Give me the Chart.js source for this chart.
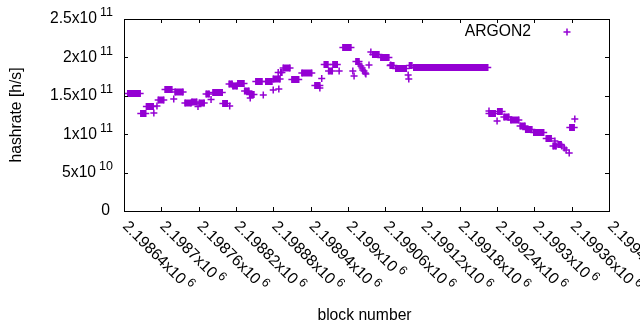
<!DOCTYPE html>
<html lang="en">
<head>
<meta charset="UTF-8">
<title>ARGON2 hashrate</title>
<script src="https://cdn.jsdelivr.net/npm/chart.js@4/dist/chart.umd.min.js"></script>
<style>
    body { margin: 0; background: #fff; }
    canvas { display: block; }
</style>
</head>
<body>
<canvas id="canvas" width="640" height="330"></canvas>
<script>
    // runs of consecutive blocks reporting the same hashrate
    var runFirst = [2198646, 2198667, 2198676, 2198695, 2198706, 2198722, 2198738, 2198749, 2198761, 2198772,
                    2198783, 2198799, 2198809, 2198815, 2198823, 2198834, 2198842, 2198852, 2198868, 2198880,
                    2198892, 2198896, 2198910, 2198926, 2198947, 2198962, 2198969, 2198976, 2198992, 2199013,
                    2199040, 2199053, 2199068, 2199077, 2199099, 2199106, 2199227, 2199241, 2199251, 2199262,
                    2199277, 2199286, 2199299, 2199319, 2199330, 2199338, 2199357];
    var runLast  = [2198666, 2198675, 2198687, 2198704, 2198717, 2198735, 2198748, 2198757, 2198769, 2198777,
                    2198798, 2198806, 2198814, 2198822, 2198833, 2198841, 2198849, 2198862, 2198878, 2198891,
                    2198894, 2198907, 2198921, 2198942, 2198955, 2198968, 2198975, 2198983, 2199005, 2199018,
                    2199050, 2199066, 2199074, 2199094, 2199103, 2199225, 2199237, 2199248, 2199259, 2199275,
                    2199285, 2199296, 2199315, 2199327, 2199335, 2199343, 2199364];
    var runRate  = [1.530e11, 1.270e11, 1.361e11, 1.445e11, 1.582e11, 1.549e11, 1.406e11, 1.419e11, 1.406e11, 1.523e11,
                    1.543e11, 1.400e11, 1.654e11, 1.628e11, 1.660e11, 1.562e11, 1.517e11, 1.686e11, 1.686e11, 1.719e11,
                    1.803e11, 1.862e11, 1.712e11, 1.797e11, 1.634e11, 1.908e11, 1.823e11, 1.908e11, 2.129e11, 1.947e11,
                    2.038e11, 1.999e11, 1.894e11, 1.855e11, 1.894e11, 1.868e11, 1.270e11, 1.296e11, 1.224e11, 1.185e11,
                    1.107e11, 1.061e11, 1.022e11, 0.944e11, 0.846e11, 0.866e11, 1.087e11];

    // isolated blocks
    var singleBlock = [2198688, 2198693, 2198720, 2198759, 2198780, 2198810, 2198843, 2198864, 2198880, 2198888,
                       2198889, 2198955, 2198958, 2198986, 2199008, 2199010, 2199018, 2199021, 2199023, 2199024,
                       2199026, 2199028, 2199029, 2199034, 2199037, 2199069, 2199097, 2199098, 2199227, 2199240,
                       2199333, 2199344, 2199348, 2199351, 2199356, 2199365];
    var singleRate  = [1.276e11, 1.367e11, 1.458e11, 1.361e11, 1.452e11, 1.367e11, 1.471e11, 1.510e11, 1.576e11, 1.803e11,
                       1.589e11, 1.602e11, 1.725e11, 1.823e11, 1.823e11, 1.758e11, 1.914e11, 1.888e11, 1.862e11, 1.836e11,
                       1.823e11, 1.797e11, 1.784e11, 1.901e11, 2.070e11, 1.901e11, 1.771e11, 1.719e11, 1.302e11, 1.172e11,
                       0.911e11, 0.846e11, 0.820e11, 0.794e11, 0.755e11, 1.198e11];

    var xTickValues = [2198640, 2198700, 2198760, 2198820, 2198880, 2198940, 2199000,
                       2199060, 2199120, 2199180, 2199240, 2199300, 2199360, 2199420];
    var xTickText = ['2.19864', '2.1987', '2.19876', '2.19882', '2.19888', '2.19894', '2.199',
                     '2.19906', '2.19912', '2.19918', '2.19924', '2.1993', '2.19936', '2.19942'];
    var yTickValues = [0, 5e10, 1e11, 1.5e11, 2e11, 2.5e11];
    var yTickText = ['0', '5x10', '1x10', '1.5x10', '2x10', '2.5x10'];
    var yTickExp = ['', '10', '11', '11', '11', '11'];

    var PURPLE = '#9400d3';
    var FONT = '15.7px "Liberation Sans", Arial, sans-serif';
    var SUP = '12.5px "Liberation Sans", Arial, sans-serif';

    // runs become short thick segments, broken apart by a null point
    var runPoints = [];
    for (var i = 0; i < runFirst.length; i++) {
        runPoints.push({x: runFirst[i], y: runRate[i]});
        runPoints.push({x: runLast[i], y: runRate[i]});
        runPoints.push({x: runLast[i], y: null});
    }
    var singlePoints = singleBlock.map(function(b, i) {
        return {x: b, y: singleRate[i]};
    });

    var gnuplotLook = {
        id: 'gnuplotLook',
        afterDraw: function(chart) {
            var ctx = chart.ctx, a = chart.chartArea;
            var xs = chart.scales.x, ys = chart.scales.y;
            ctx.save();
            ctx.strokeStyle = '#000';
            ctx.fillStyle = '#000';
            ctx.lineWidth = 1;
            ctx.strokeRect(Math.round(a.left) + 0.5, Math.round(a.top) + 0.5,
                Math.round(a.right - a.left), Math.round(a.bottom - a.top));

            // inward ticks, mirrored
            ctx.beginPath();
            xTickValues.forEach(function(v) {
                var px = Math.round(xs.getPixelForValue(v)) + 0.5;
                ctx.moveTo(px, a.bottom); ctx.lineTo(px, a.bottom - 4);
                ctx.moveTo(px, a.top); ctx.lineTo(px, a.top + 4);
            });
            yTickValues.forEach(function(v) {
                var py = Math.round(ys.getPixelForValue(v)) + 0.5;
                ctx.moveTo(a.left, py); ctx.lineTo(a.left + 4, py);
                ctx.moveTo(a.right, py); ctx.lineTo(a.right - 4, py);
            });
            ctx.stroke();

            // y tick labels
            ctx.textBaseline = 'middle';
            yTickValues.forEach(function(v, i) {
                var py = ys.getPixelForValue(v);
                var right = a.left - 11;
                ctx.textAlign = 'right';
                if (yTickExp[i]) {
                    ctx.font = SUP;
                    var ew = ctx.measureText(yTickExp[i]).width;
                    ctx.fillText(yTickExp[i], right, py - 6);
                    ctx.font = FONT;
                    ctx.fillText(yTickText[i], right - ew - 3, py);
                } else {
                    ctx.font = FONT;
                    ctx.fillText(yTickText[i], right - 3, py);
                }
            });

            // x tick labels, turned 45 degrees clockwise
            xTickValues.forEach(function(v, i) {
                var px = xs.getPixelForValue(v);
                ctx.save();
                ctx.translate(px + 1, a.bottom + 13);
                ctx.rotate(Math.PI / 4);
                ctx.textAlign = 'left';
                ctx.font = FONT;
                var base = xTickText[i] + 'x10';
                ctx.fillText(base, 0, 0);
                var w = ctx.measureText(base).width;
                ctx.font = SUP;
                ctx.fillText('6', w + 3, -5);
                ctx.restore();
            });

            // axis titles
            ctx.font = FONT;
            ctx.textAlign = 'center';
            ctx.fillText('block number', (a.left + a.right) / 2 - 2, 316);
            ctx.save();
            ctx.translate(17, (a.top + a.bottom) / 2);
            ctx.rotate(-Math.PI / 2);
            ctx.fillText('hashrate [h/s]', 0, 0);
            ctx.restore();

            // key
            ctx.textAlign = 'right';
            ctx.fillText('ARGON2', 531, 32);
            ctx.strokeStyle = PURPLE;
            ctx.lineWidth = 1.5;
            ctx.beginPath();
            ctx.moveTo(563.5, 32); ctx.lineTo(570.5, 32);
            ctx.moveTo(567, 28.5); ctx.lineTo(567, 35.5);
            ctx.stroke();
            ctx.restore();
        }
    };

    window.onload = function() {
        var ctx = document.getElementById('canvas').getContext('2d');
        window.myChart = new Chart(ctx, {
            type: 'scatter',
            data: {
                datasets: [{
                    label: 'ARGON2',
                    data: runPoints,
                    showLine: true,
                    spanGaps: false,
                    borderColor: PURPLE,
                    backgroundColor: PURPLE,
                    borderWidth: 7,
                    borderCapStyle: 'butt',
                    pointStyle: 'cross',
                    pointRadius: 3.5,
                    pointBorderWidth: 1.5,
                    pointBorderColor: PURPLE
                }, {
                    label: 'ARGON2 single',
                    data: singlePoints,
                    showLine: false,
                    pointStyle: 'cross',
                    pointRadius: 3.5,
                    pointBorderWidth: 1.5,
                    borderColor: PURPLE,
                    backgroundColor: PURPLE
                }]
            },
            options: {
                responsive: false,
                animation: false,
                layout: { padding: { left: 124, right: 31, top: 19, bottom: 119 } },
                plugins: {
                    legend: { display: false },
                    tooltip: { enabled: false }
                },
                scales: {
                    x: { type: 'linear', min: 2198640, max: 2199420, display: false },
                    y: { type: 'linear', min: 0, max: 2.5e11, display: false }
                }
            },
            plugins: [gnuplotLook]
        });
    };
</script>
</body>
</html>
